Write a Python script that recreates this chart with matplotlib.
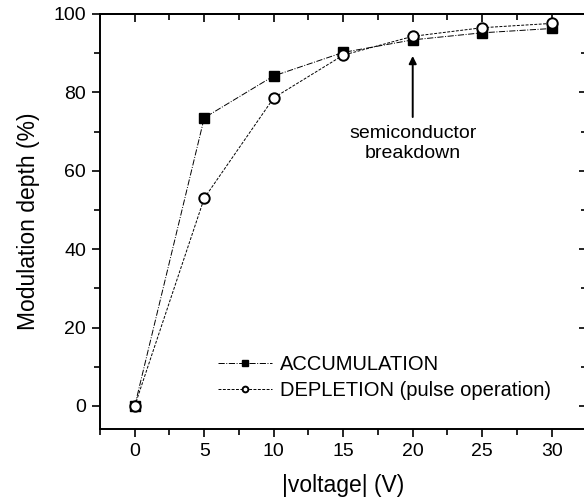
import matplotlib
matplotlib.use("Agg")
import matplotlib.pyplot as plt
from matplotlib.ticker import MultipleLocator

voltage = [0, 5, 10, 15, 20, 25, 30]
accumulation = [0, 73.5, 84.2, 90.2, 93.4, 95.2, 96.3]
depletion = [0, 53.0, 78.6, 89.5, 94.3, 96.5, 97.6]

plt.rcParams['font.family'] = ['Liberation Sans', 'DejaVu Sans']

W, H = 584, 503
fig = plt.figure(figsize=(W / 100, H / 100), dpi=100)
L, R, T, B = 100, 587, 14, 429
ax = fig.add_axes([L / W, 1 - B / H, (R - L) / W, (B - T) / H])

ax.plot(voltage, accumulation, color='black', linestyle='-.', linewidth=0.7,
        marker='s', markersize=7, markerfacecolor='black', markeredgecolor='black',
        label='ACCUMULATION')
ax.plot(voltage, depletion, color='black', linestyle=(0, (3, 1.5)), linewidth=0.7,
        marker='o', markersize=7.5, markerfacecolor='white', markeredgecolor='black',
        markeredgewidth=1.4, label='DEPLETION (pulse operation)')

ax.annotate('', xy=(20, 90.0), xytext=(20, 73.0),
            arrowprops=dict(arrowstyle='-|>', color='black', lw=1.4,
                            mutation_scale=11))
ax.text(20, 69.4, 'semiconductor', ha='center', va='center', fontsize=14)
ax.text(20, 64.4, 'breakdown', ha='center', va='center', fontsize=14)

ax.set_xlim(-2.5, 32.54)
ax.set_ylim(-5.9, 100)
ax.xaxis.set_major_locator(MultipleLocator(5))
ax.xaxis.set_minor_locator(MultipleLocator(2.5))
ax.yaxis.set_major_locator(MultipleLocator(20))
ax.yaxis.set_minor_locator(MultipleLocator(10))
ax.tick_params(which='both', direction='out', labelsize=14, width=1.2, pad=4)
ax.tick_params(which='major', length=6)
ax.tick_params(which='minor', length=4)
for s in ax.spines.values():
    s.set_linewidth(1.4)

top = ax.secondary_xaxis('top')
top.xaxis.set_major_locator(MultipleLocator(5))
top.xaxis.set_minor_locator(MultipleLocator(2.5))
top.tick_params(which='both', direction='in', labeltop=False, width=1.2)
top.tick_params(which='major', length=6)
top.tick_params(which='minor', length=4)
top.spines['top'].set_linewidth(1.4)

right = ax.secondary_yaxis('right')
right.yaxis.set_major_locator(MultipleLocator(20))
right.yaxis.set_minor_locator(MultipleLocator(10))
right.tick_params(which='both', direction='in', labelright=False, width=1.2)
right.tick_params(which='major', length=6)
right.tick_params(which='minor', length=4)

ax.set_xlabel('|voltage| (V)', fontsize=16.5, labelpad=10)
ax.set_ylabel('Modulation depth (%)', fontsize=16.5, labelpad=10)

leg = ax.legend(loc='lower left', bbox_to_anchor=((218 - L) / (R - L), (B - 400) / (B - T)),
                frameon=False, fontsize=14.5, markerscale=0.55,
                handlelength=2.7, handletextpad=0.4, borderpad=0,
                borderaxespad=0, labelspacing=0.35)

fig.savefig('out.png', dpi=100)
